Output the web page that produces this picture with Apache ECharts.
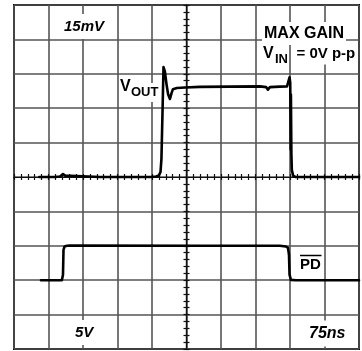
<!DOCTYPE html>
<html>
<head>
<meta charset="utf-8">
<script src="https://cdn.jsdelivr.net/npm/echarts@6/dist/echarts.min.js"></script>
<style>
  html, body { margin: 0; padding: 0; background: #fff; }
  #chart { width: 362px; height: 351px; }
</style>
</head>
<body>
<div id="chart"></div>
<script>
// Time base: 75 ns per division, 10 divisions across
const timeMin = 0, timeMax = 750, timeStep = 75;
// Channel 1 (VOUT): 15 mV per division, ground at screen centre
const voutMin = -75, voutMax = 75, voutStep = 15;
// Channel 2 (PD): 5 V per division, ground three divisions below centre
const pdMin = -10, pdMax = 40, pdStep = 5;

// VOUT trace: [time ns, mV]
const voutTrace = [
  [55, 0], [89, 0], [100, 0.2], [106.5, 1.3], [111, 0.6], [115, 0],
  [187, 0], [296, 0], [309, 0.2], [315, 0.7], [318.5, 2.2], [320.5, 7.8],
  [323, 29.6], [325, 47.9], [328, 46], [331.5, 40.5], [335, 36.1],
  [339, 34], [342.5, 36.6], [345.5, 38.3], [354, 38.8], [372, 39],
  [404, 39.3], [469.5, 39.4], [535, 39.5], [548, 39.2], [552, 38.1],
  [556.5, 39.2], [578, 39.4], [593.5, 39.5], [597, 40], [599, 43.5],
  [600.5, 41], [601.5, 12], [602, 36], [603, 10], [604, 3], [607, 0.5],
  [612, 0], [750, 0]
];

// PD trace: [time ns, V]
const pdTrace = [
  [58.7, 0], [104, 0], [106.5, 0.8], [107.6, 4.4], [110, 4.9], [115, 5.0],
  [121.7, 5.05], [404, 5.0], [578, 5.0], [591, 4.9], [595.6, 4.7],
  [597.8, 3.7], [599, 0.8], [602, 0.05], [613, 0], [750, 0]
];

const chart = echarts.init(document.getElementById('chart'), null, { renderer: 'canvas' });

const G = { left: 14, top: 5, width: 345, height: 344 };
const FONT = '"Liberation Sans", Arial, sans-serif';
const gridLine = { show: true, lineStyle: { color: '#555', width: 1.6 } };
const none = { show: false };

// centre graticule axis with minor ticks
function centreX(pos) {
  return {
    type: 'value', min: timeMin, max: timeMax, interval: timeStep,
    position: pos, offset: -G.height / 2,
    axisLine: { show: true, onZero: false, lineStyle: { color: '#111', width: 1.2 } },
    axisTick: { show: true, length: 3, lineStyle: { color: '#111', width: 1.2 } },
    minorTick: { show: true, splitNumber: 5, length: 3, lineStyle: { color: '#111', width: 1.2 } },
    axisLabel: none, splitLine: none
  };
}
function centreY(pos) {
  return {
    type: 'value', min: voutMin, max: voutMax, interval: voutStep,
    position: pos, offset: -G.width / 2,
    axisLine: { show: true, onZero: false, lineStyle: { color: '#111', width: 1.2 } },
    axisTick: { show: true, length: 3, lineStyle: { color: '#111', width: 1.2 } },
    minorTick: { show: true, splitNumber: 5, length: 3, lineStyle: { color: '#111', width: 1.2 } },
    axisLabel: none, splitLine: none
  };
}

// label on a white patch so the graticule is masked behind it
function text(x, y, str, size, italic, pad) {
  return {
    type: 'text', x: x, y: y, silent: true, z: 100,
    style: {
      text: str, fill: '#000',
      font: (italic ? 'italic ' : '') + 'bold ' + size + 'px ' + FONT,
      textAlign: 'left', textVerticalAlign: 'middle',
      backgroundColor: '#fff', padding: pad || [3, 1, 3, 1]
    }
  };
}

chart.setOption({
  animation: false,
  backgroundColor: '#fff',
  grid: {
    left: G.left, top: G.top, width: G.width, height: G.height,
    show: true, borderColor: '#000', borderWidth: 2, backgroundColor: '#fff'
  },
  xAxis: [
    {
      type: 'value', min: timeMin, max: timeMax, interval: timeStep,
      axisLine: { show: false, onZero: false }, axisTick: none, axisLabel: none,
      splitLine: gridLine
    },
    centreX('bottom'),
    centreX('top')
  ],
  yAxis: [
    {
      type: 'value', min: voutMin, max: voutMax, interval: voutStep,
      axisLine: { show: false, onZero: false }, axisTick: none, axisLabel: none,
      splitLine: gridLine
    },
    {
      type: 'value', min: pdMin, max: pdMax, interval: pdStep,
      axisLine: { show: false, onZero: false }, axisTick: none, axisLabel: none,
      splitLine: none
    },
    centreY('left'),
    centreY('right')
  ],
  series: [
    {
      name: 'VOUT', type: 'line', xAxisIndex: 0, yAxisIndex: 0,
      data: voutTrace, showSymbol: false, smooth: false,
      lineStyle: { color: '#000', width: 2.6, join: 'round', cap: 'round' },
      z: 5
    },
    {
      name: 'PD', type: 'line', xAxisIndex: 0, yAxisIndex: 1,
      data: pdTrace, showSymbol: false, smooth: false,
      lineStyle: { color: '#000', width: 2.6, join: 'round', cap: 'round' },
      z: 5
    }
  ],
  graphic: [
    text(62, 26.5, '15mV', 15, true, [5, 2, 5, 2]),
    text(73, 332.5, '5V', 15, true, [5, 2, 5, 2]),
    text(307, 333.5, '75ns', 16, true, [5, 2, 5, 2]),
    text(262, 33.5, 'MAX GAIN', 16, false, [5, 2, 2, 2]),
    text(262, 54, 'V', 16, false, [3, 1, 3, 1]),
    text(274, 59, 'IN', 13, false, [2, 1, 2, 1]),
    text(295.5, 54, '= 0V p-p', 15, false, [3, 0, 3, 1]),
    text(119, 87, 'V', 16, false, [3, 1, 3, 1]),
    text(130, 92.5, 'OUT', 13, false, [3, 1, 3, 1]),
    text(299, 264.5, 'PD', 15, false, [4, 1, 3, 1]),
    {
      type: 'line', silent: true, z: 101,
      shape: { x1: 300, y1: 255.5, x2: 321.5, y2: 255.5 },
      style: { stroke: '#000', lineWidth: 1.5 }
    }
  ]
});
</script>
</body>
</html>
